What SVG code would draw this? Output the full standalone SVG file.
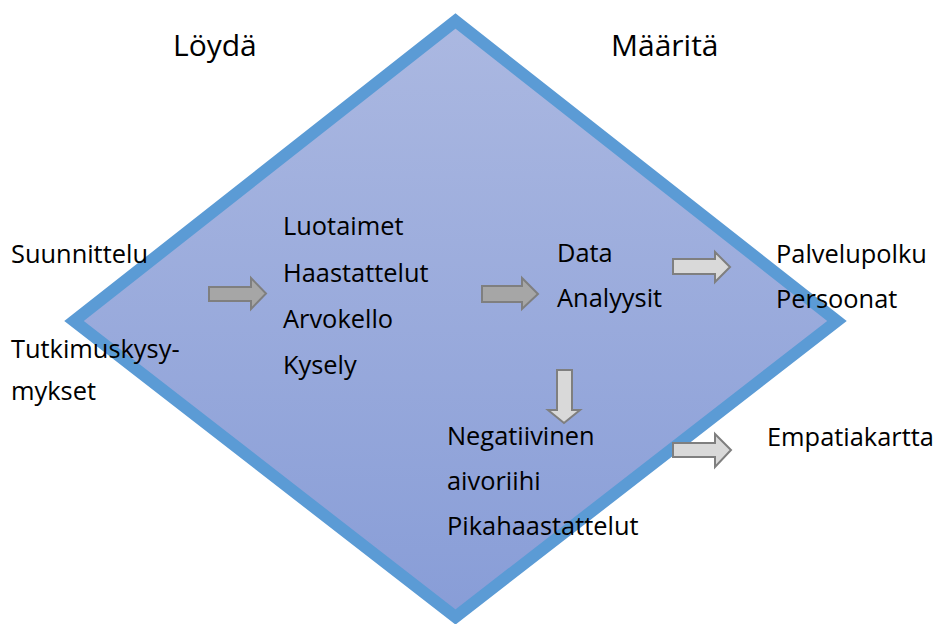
<svg xmlns="http://www.w3.org/2000/svg" width="939" height="624" viewBox="0 0 939 624">
<style>
.t{font-family:"Open Sans","DejaVu Sans",sans-serif;font-size:25.4px;fill:#000}
.h{font-family:"Open Sans","DejaVu Sans",sans-serif;font-size:30px;fill:#000}
.ad{fill:#A6A6A6;stroke:#7F7F7F;stroke-width:2}
.al{fill:#D9D9D9;stroke:#7F7F7F;stroke-width:2}
</style>
<defs>
<linearGradient id="g" x1="0" y1="0" x2="0" y2="1">
<stop offset="0" stop-color="#ABB8E1"/>
<stop offset="1" stop-color="#889DD7"/>
</linearGradient>
</defs>
<rect width="939" height="624" fill="#fff"/>
<g id="diamond">
<polygon points="455.5,21 837,321 455.5,617 74,321" fill="url(#g)" stroke="#5B9BD5" stroke-width="12"/>
</g>
<g id="titles">
<text class="h" x="173" y="56">Löydä</text>
<text class="h" x="611" y="56">Määritä</text>
</g>
<g id="left-node">
<text class="t" x="11" y="263">Suunnittelu</text>
<text class="t" x="11" y="358">Tutkimuskysy-</text>
<text class="t" x="11" y="400">mykset</text>
</g>
<g id="methods-node">
<text class="t" x="283" y="235">Luotaimet</text>
<text class="t" x="283" y="282">Haastattelut</text>
<text class="t" x="283" y="328">Arvokello</text>
<text class="t" x="283" y="374">Kysely</text>
</g>
<g id="data-node">
<text class="t" x="557" y="262">Data</text>
<text class="t" x="557" y="307">Analyysit</text>
</g>
<g id="ideation-node">
<text class="t" x="447" y="445">Negatiivinen</text>
<text class="t" x="447" y="490">aivoriihi</text>
<text class="t" x="447" y="535">Pikahaastattelut</text>
</g>
<g id="output-node">
<text class="t" x="776" y="263">Palvelupolku</text>
<text class="t" x="776" y="308">Persoonat</text>
</g>
<g id="empathy-node">
<text class="t" x="767" y="446">Empatiakartta</text>
</g>
<g id="connectors">
<polygon class="ad" points="209,287 251,287 251,278 266,293.5 251,309 251,301 209,301"/>
<polygon class="ad" points="482,286 522,286 522,278 538,294 522,309 522,302 482,302"/>
<polygon class="al" points="673,259 715,259 715,252 730,267 715,282 715,274 673,274"/>
<polygon class="al" points="557,370 572,370 572,410 580,410 564,423 548,410 557,410"/>
<polygon class="al" points="673,443 715,443 715,434 731,450 715,467 715,457 673,457"/>
</g>
</svg>
